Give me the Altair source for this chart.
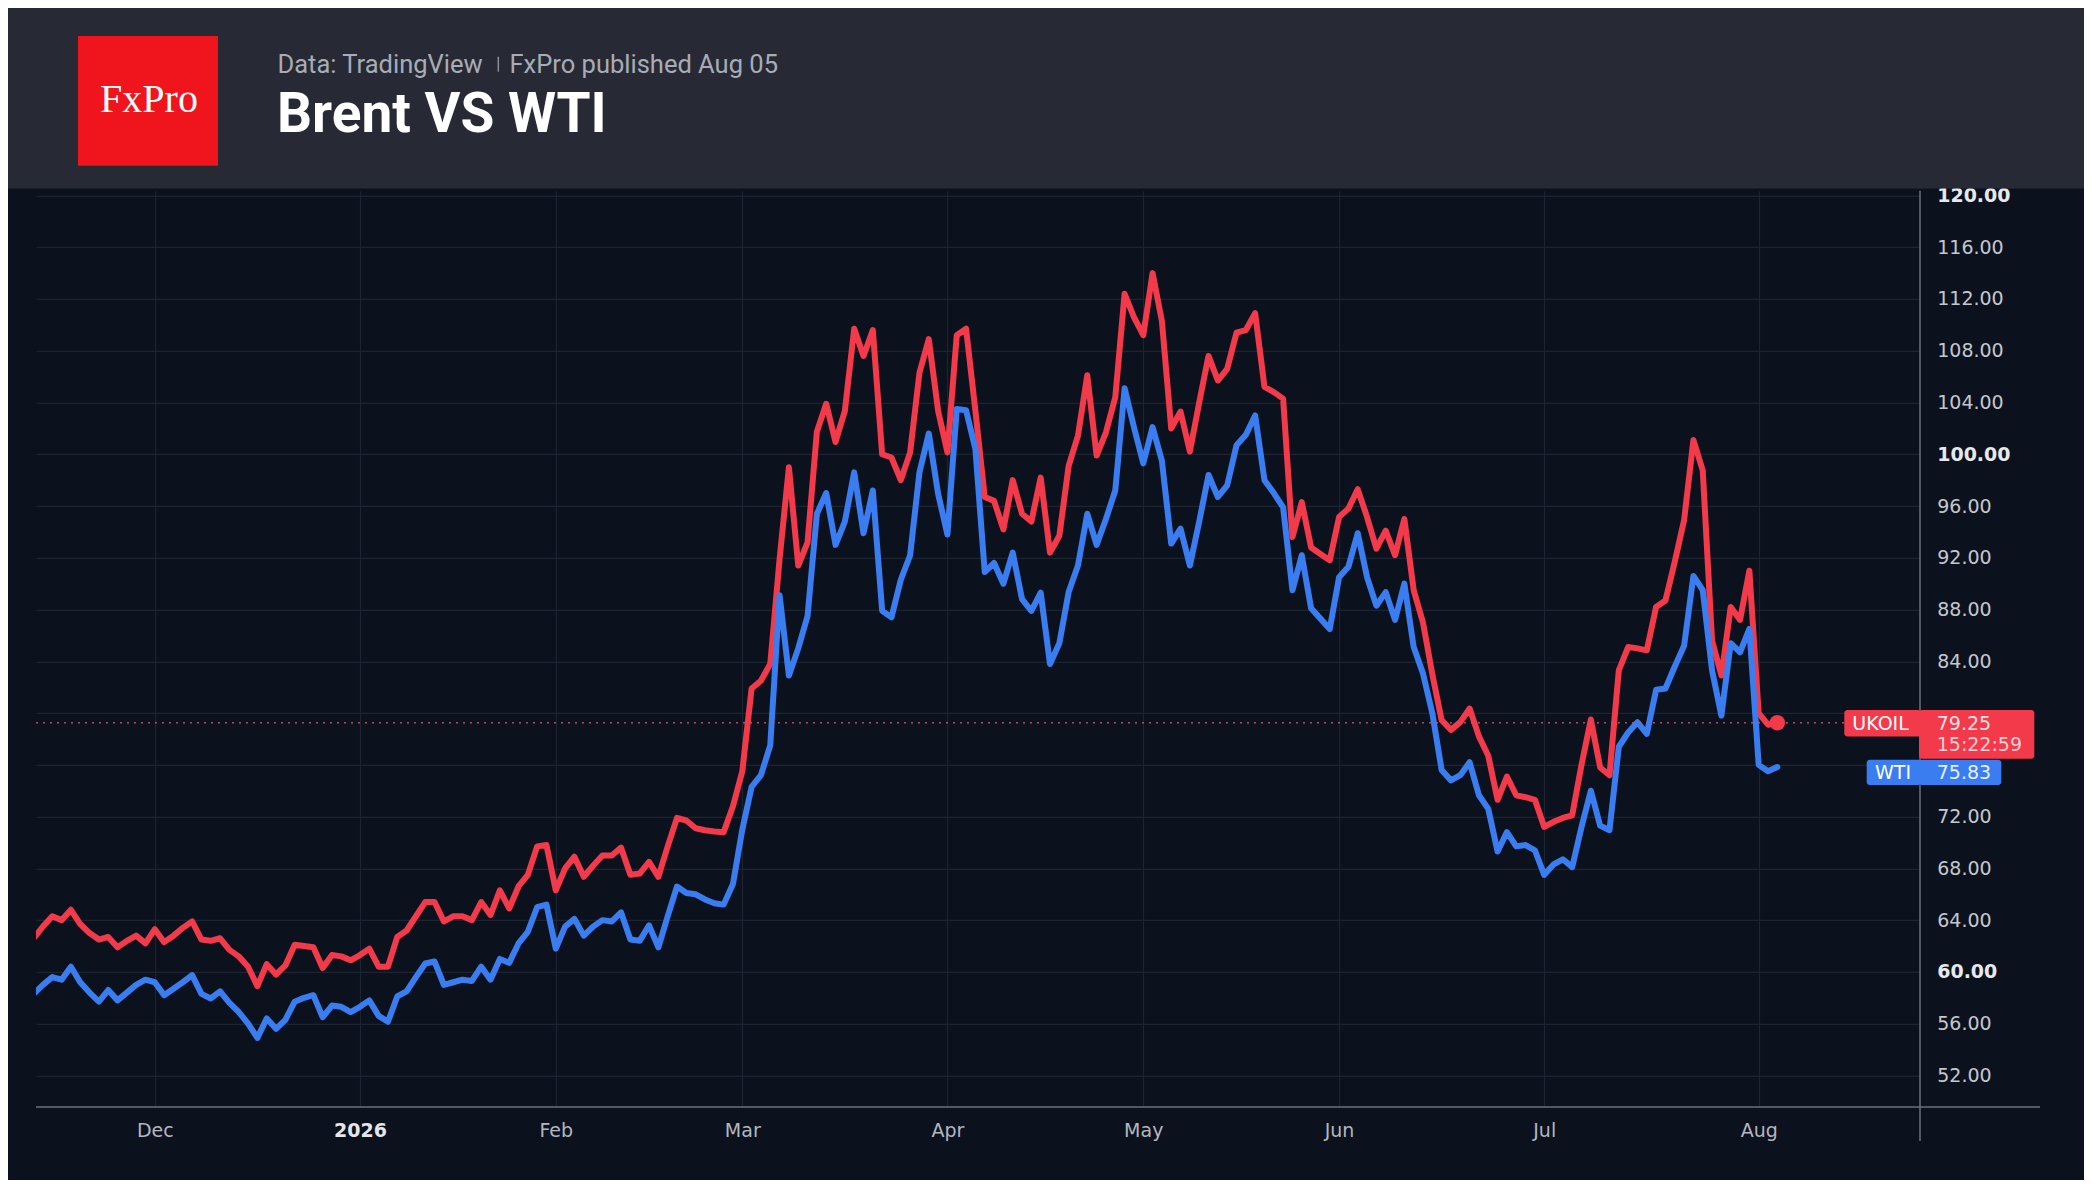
import altair as alt
import pandas as pd

# ---------------- data ----------------
brent = [
    62.6, 63.5, 64.3, 64.0, 64.8, 63.7, 63.0, 62.5, 62.7, 61.9,
    62.4, 62.8, 62.2, 63.3, 62.3, 62.8, 63.4, 63.9, 62.5, 62.4,
    62.6, 61.7, 61.2, 60.4, 58.9, 60.6, 59.8, 60.5, 62.1, 62.0,
    61.9, 60.3, 61.3, 61.2, 60.9, 61.3, 61.8, 60.4, 60.4, 62.7,
    63.2, 64.3, 65.4, 65.4, 63.9, 64.3, 64.3, 64.0, 65.4, 64.4,
    66.3, 64.9, 66.6, 67.5, 69.7, 69.8, 66.3, 68.0, 68.9, 67.35,
    68.2, 69.0, 69.0, 69.6, 67.5, 67.6, 68.5, 67.35, 69.7, 71.9,
    71.7, 71.1, 70.95, 70.85, 70.8, 72.8, 75.5, 81.9, 82.5, 83.8,
    91.9, 99.0, 91.4, 93.2, 101.75, 103.9, 100.95, 103.35, 109.7, 107.6,
    109.6, 100.0, 99.75, 98.0, 100.15, 106.3, 108.9, 103.35, 100.15, 109.2,
    109.7, 103.35, 96.7, 96.4, 94.2, 98.0, 95.4, 94.8, 98.2, 92.4,
    93.7, 99.1, 101.45, 106.1, 99.9, 101.7, 104.4, 112.4, 110.6, 109.2,
    114.0, 110.3, 102.0, 103.3, 100.2, 104.0, 107.6, 105.7, 106.6, 109.4,
    109.6, 110.9, 105.2, 104.8, 104.3, 93.6, 96.3, 92.8, 92.3, 91.8,
    95.15, 95.8, 97.3, 95.15, 92.7, 94.1, 92.2, 95.0, 89.5, 87.0,
    83.0, 79.45, 78.7, 79.3, 80.35, 78.2, 76.7, 73.3, 75.1, 73.65,
    73.5, 73.3, 71.2, 71.6, 71.9, 72.1, 76.0, 79.5, 75.8, 75.2,
    83.3, 85.1, 85.0, 84.85, 88.2, 88.7, 91.7, 94.9, 101.1, 98.75,
    85.6, 82.9, 88.2, 87.2, 91.0, 80.0, 79.1, 79.25,
]
wti = [
    58.3, 59.0, 59.6, 59.4, 60.4, 59.2, 58.4, 57.7, 58.6, 57.8,
    58.4, 59.0, 59.4, 59.2, 58.2, 58.7, 59.2, 59.75, 58.3, 57.95,
    58.5, 57.6, 56.9, 56.0, 54.9, 56.4, 55.6, 56.3, 57.7, 58.0,
    58.2, 56.5, 57.4, 57.3, 56.9, 57.3, 57.8, 56.6, 56.15, 58.1,
    58.5, 59.6, 60.65, 60.8, 59.0, 59.2, 59.4, 59.3, 60.4, 59.4,
    61.0, 60.7, 62.2, 63.1, 65.0, 65.2, 61.8, 63.5, 64.1, 62.8,
    63.5, 64.0, 63.9, 64.6, 62.5, 62.4, 63.6, 61.9, 64.3, 66.6,
    66.1, 66.0, 65.6, 65.3, 65.2, 66.8, 71.0, 74.3, 75.2, 77.5,
    89.1, 82.9, 85.0, 87.5, 95.4, 97.0, 93.0, 94.8, 98.6, 93.9,
    97.2, 87.9, 87.4, 90.3, 92.2, 98.6, 101.6, 96.95, 93.8, 103.5,
    103.4, 100.4, 90.9, 91.6, 90.0, 92.4, 88.8, 87.9, 89.3, 83.8,
    85.4, 89.35, 91.4, 95.4, 93.0, 95.0, 97.2, 105.1, 102.1, 99.3,
    102.1, 99.5, 93.1, 94.25, 91.4, 94.8, 98.4, 96.7, 97.6, 100.7,
    101.5, 103.0, 98.0, 97.0, 95.9, 89.5, 92.2, 88.1, 87.3, 86.5,
    90.5, 91.3, 93.9, 90.5, 88.3, 89.35, 87.2, 90.0, 85.1, 83.05,
    80.0, 75.6, 74.8, 75.2, 76.2, 73.65, 72.6, 69.3, 70.8, 69.7,
    69.8, 69.4, 67.5, 68.3, 68.7, 68.1, 71.2, 74.0, 71.3, 70.95,
    77.4, 78.5, 79.3, 78.4, 81.8, 81.9, 83.6, 85.2, 90.6, 89.5,
    83.3, 79.8, 85.4, 84.7, 86.5, 76.0, 75.5, 75.83,
]
series_names = ["Brent", "WTI"]
tag_names = ["UKOIL", "WTI"]
month_labels = ["Dec", "2026", "Feb", "Mar", "Apr", "May", "Jun", "Jul", "Aug"]
month_first_bar = [13, 35, 56, 76, 98, 119, 140, 162, 185]
y_ticks = [52, 56, 60, 64, 68, 72, 76, 80, 84, 88, 92, 96, 100, 104, 108, 112, 116, 120]
covered_ticks = [76, 80]  # labels hidden behind the price tags
ukoil_countdown = "15:22:59"
title_text = "Brent VS WTI"
source_text = "Data: TradingView"
published_text = "FxPro published Aug 05"
logo_text = "FxPro"

# ---------------- styling ----------------
BG = "#0c121d"
HEADER = "#272a35"
GRID = "#1c2331"
RED = "#f23a4a"
BLUE = "#3a7df0"
AXISLINE = "#6c717d"
FONT = "DejaVu Sans"
UI = "Roboto"

W, H = 1884, 916.2
n = len(brent)
df = pd.DataFrame({
    "i": list(range(n)) * 2,
    "v": brent + wti,
    "s": [series_names[0]] * n + [series_names[1]] * n,
})
one = alt.Data(values=[{"k": 0}])

xs = alt.Scale(domain=[0.257, 202.3], nice=False, zero=False)
ys = alt.Scale(domain=[49.56, 120.36], nice=False, zero=False)

label_expr = " : ".join(
    f"datum.value == {b} ? '{m}'" for b, m in zip(month_first_bar, month_labels)
) + " : ''"
bold_bar = month_first_bar[month_labels.index("2026")]
hide_test = " || ".join(f"datum.value == {t}" for t in covered_ticks)
y_label_expr = f"({hide_test}) ? '' : format(datum.value, '.2f')"

x_axis = alt.Axis(
    values=month_first_bar, labelExpr=label_expr, title=None,
    grid=True, gridColor=GRID, gridWidth=1.2, domain=False, ticks=False, tickSize=0,
    labelPadding=23, labelBaseline="middle", labelFont=FONT, labelFontSize=19,
    labelColor={"condition": {"test": f"datum.value == {bold_bar}", "value": "#e4e6ea"}, "value": "#b3b7bf"},
    labelFontWeight={"condition": {"test": f"datum.value == {bold_bar}", "value": "bold"}, "value": "normal"},
    labelFlush=False, labelOverlap=False,
)
y_axis = alt.Axis(
    orient="right", values=y_ticks, labelExpr=y_label_expr, title=None,
    grid=True, gridColor=GRID, gridWidth=1.2, domain=False, ticks=False, tickSize=0,
    labelPadding=16.7, labelFont=FONT, labelFontSize=19, labelAlign="left",
    labelColor={"condition": {"test": "datum.value % 20 == 0", "value": "#e6e8ec"}, "value": "#c4c7ce"},
    labelFontWeight={"condition": {"test": "datum.value % 20 == 0", "value": "bold"}, "value": "normal"},
    labelOverlap=False,
)

X = alt.X("i:Q", scale=xs, axis=x_axis)
Yv = alt.Y("v:Q", scale=ys, axis=y_axis)

base = alt.Chart(df)

red_line = base.transform_filter(f"datum.s == '{series_names[0]}'").mark_line(
    color=RED, strokeWidth=6, strokeJoin="round", strokeCap="round", clip=True
).encode(x=X, y=Yv)

blue_line = base.transform_filter(f"datum.s == '{series_names[1]}'").mark_line(
    color=BLUE, strokeWidth=6, strokeJoin="round", strokeCap="round", clip=True
).encode(x=X, y=Yv)

last_red = base.transform_filter(f"datum.s == '{series_names[0]}' && datum.i == {n - 1}")
last_blue = base.transform_filter(f"datum.s == '{series_names[1]}' && datum.i == {n - 1}")

price_line = last_red.mark_rule(color="#c95a68", strokeDash=[2, 5], strokeWidth=1.6, opacity=0.85).encode(
    y=Yv, x=alt.value(0), x2=alt.value(1808.3))

end_dot = last_red.mark_circle(size=240, color=RED, opacity=1).encode(x=X, y=Yv)

# frame lines
right_line = alt.Chart(one).mark_rule(color=AXISLINE, strokeWidth=1.5).encode(
    x=alt.value(W), y=alt.value(0), y2=alt.value(950.2))
bottom_line = alt.Chart(one).mark_rule(color=AXISLINE, strokeWidth=1.5).encode(
    y=alt.value(H), x=alt.value(0), x2=alt.value(2004))

# price tags
uk_box1 = last_red.mark_rect(color=RED, cornerRadius=3, yOffset=-12.9, y2Offset=13.6).encode(
    x=alt.value(1808.3), x2=alt.value(W + 1), y=Yv, y2=alt.Y2("v"))
uk_box2 = last_red.mark_rect(color=RED, cornerRadius=3, yOffset=-12.9, y2Offset=35.9).encode(
    x=alt.value(W - 1), x2=alt.value(1998.3), y=Yv, y2=alt.Y2("v"))
uk_name = last_red.mark_text(align="left", baseline="middle", font=FONT, fontSize=19, color="#ffffff", dy=1).encode(
    x=alt.value(1816.3), y=Yv, text=alt.value(tag_names[0]))
uk_val = last_red.mark_text(align="left", baseline="middle", font=FONT, fontSize=19, color="#ffe3e6", dy=1).encode(
    x=alt.value(1900.7), y=Yv, text=alt.Text("v:Q", format=".2f"))
uk_time = last_red.mark_text(align="left", baseline="middle", font=FONT, fontSize=19, color="#ffd0d5", dy=22).encode(
    x=alt.value(1900.7), y=Yv, text=alt.value(ukoil_countdown))

wt_box1 = last_blue.mark_rect(color=BLUE, cornerRadius=3, yOffset=-7.4, y2Offset=18).encode(
    x=alt.value(1830.7), x2=alt.value(W + 1), y=Yv, y2=alt.Y2("v"))
wt_box2 = last_blue.mark_rect(color=BLUE, cornerRadius=3, yOffset=-7.4, y2Offset=18).encode(
    x=alt.value(W - 1), x2=alt.value(1965.3), y=Yv, y2=alt.Y2("v"))
wt_name = last_blue.mark_text(align="left", baseline="middle", font=FONT, fontSize=19, color="#ffffff", dy=5.5).encode(
    x=alt.value(1839), y=Yv, text=alt.value(tag_names[1]))
wt_val = last_blue.mark_text(align="left", baseline="middle", font=FONT, fontSize=19, color="#e6efff", dy=5.5).encode(
    x=alt.value(1900.7), y=Yv, text=alt.Text("v:Q", format=".2f"))

# header
header = alt.Chart(one).mark_rect(color=HEADER).encode(
    x=alt.value(-28), x2=alt.value(2048), y=alt.value(-182.8), y2=alt.value(-2.3))
logo = alt.Chart(one).mark_rect(color="#f0141c").encode(
    x=alt.value(42), x2=alt.value(182), y=alt.value(-154.8), y2=alt.value(-25.1))
logo_t = alt.Chart(one).mark_text(align="center", baseline="alphabetic", font="Liberation Serif",
                                  fontSize=40, color="#ffffff", text=logo_text).encode(
    x=alt.value(113), y=alt.value(-79.1))
src_t = alt.Chart(one).mark_text(align="left", baseline="alphabetic", font=UI, fontSize=25.5,
                                 color="#a8acb6", text=source_text).encode(
    x=alt.value(241.5), y=alt.value(-118.1))
sep = alt.Chart(one).mark_rule(color="#8a8e99", strokeWidth=1.5).encode(
    x=alt.value(462.3), y=alt.value(-134.1), y2=alt.value(-119.1))
pub_t = alt.Chart(one).mark_text(align="left", baseline="alphabetic", font=UI, fontSize=25.5,
                                 color="#a8acb6", text=published_text).encode(
    x=alt.value(473.5), y=alt.value(-118.1))
title_t = alt.Chart(one).mark_text(align="left", baseline="alphabetic", font=UI, fontSize=55,
                                   fontWeight="bold", color="#ffffff", text=title_text).encode(
    x=alt.value(241), y=alt.value(-59.1))

chart = alt.layer(
    red_line, blue_line, price_line, end_dot, right_line, bottom_line,
    uk_box1, uk_box2, uk_name, uk_val, uk_time,
    wt_box1, wt_box2, wt_name, wt_val,
    header, logo, logo_t, src_t, sep, pub_t, title_t,
).properties(
    width=W, height=H, background=BG,
    padding={"left": 28, "top": 182.8, "right": 164, "bottom": 73},
    autosize=alt.AutoSizeParams(type="none"),
).configure_view(strokeWidth=0)

chart.save("out.html", embed_options={"renderer": "svg", "actions": False})
